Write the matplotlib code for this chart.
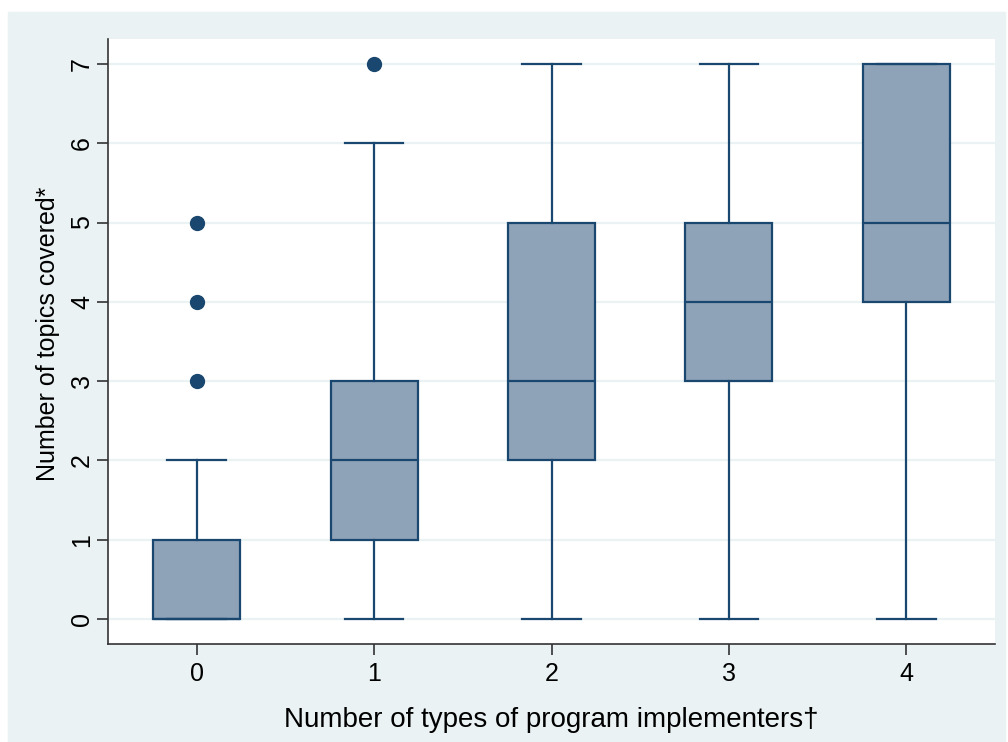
import matplotlib.pyplot as plt
from matplotlib.patches import Rectangle

plt.rcParams['font.family'] = ['Liberation Sans', 'DejaVu Sans']

# box plot summary per group
groups = [0, 1, 2, 3, 4]
whislo = [0, 0, 0, 0, 0]
q1 = [0, 1, 2, 3, 4]
med = [0, 2, 3, 4, 5]
q3 = [1, 3, 5, 5, 7]
whishi = [2, 6, 7, 7, 7]
outliers = [[3, 4, 5], [7], [], [], []]

NAVY = '#1a476f'
FILL = '#8ea3b8'
BG = '#eaf2f3'

stats = []
for i in range(len(groups)):
    stats.append(dict(whislo=whislo[i], q1=q1[i], med=med[i], q3=q3[i],
                      whishi=whishi[i], fliers=outliers[i], label=str(groups[i])))

fig = plt.figure(figsize=(10.08, 7.42), dpi=100)
fig.add_artist(Rectangle((8 / 1008, 0), 997 / 1008, 730 / 742,
                         transform=fig.transFigure, color=BG, zorder=-5))
ax = fig.add_axes([108 / 1008, 98 / 742, 887 / 1008, 605 / 742])

ax.bxp(stats, positions=groups, widths=0.49, patch_artist=True,
       boxprops=dict(facecolor=FILL, edgecolor=NAVY, linewidth=1.6),
       medianprops=dict(color=NAVY, linewidth=1.6),
       whiskerprops=dict(color=NAVY, linewidth=1.6),
       capprops=dict(color=NAVY, linewidth=1.6),
       capwidths=0.33,
       flierprops=dict(marker='o', markerfacecolor=NAVY, markeredgecolor=NAVY,
                       markersize=10), zorder=3)

ax.set_xlim(-0.5, 4.5)
ax.set_ylim(-0.315, 7.315)
ax.set_yticks(range(8))
ax.set_xticks(groups)
ax.set_xticklabels([str(g) for g in groups])
ax.yaxis.grid(True, color=BG, linewidth=1.6, zorder=0)
ax.set_axisbelow(True)

for s in ['top', 'right']:
    ax.spines[s].set_visible(False)
for s in ['left', 'bottom']:
    ax.spines[s].set_color('#333333')
    ax.spines[s].set_linewidth(1.2)

ax.tick_params(axis='both', length=8, width=1.2, color='#333333', labelsize=18)
ax.tick_params(axis='y', labelrotation=90, pad=2)
ax.tick_params(axis='x', pad=5)
for t in ax.get_yticklabels():
    t.set_va('center')

ax.set_xlabel('Number of types of program implementers†', fontsize=20, labelpad=15)
ax.set_ylabel('Number of topics covered*', fontsize=18, labelpad=7)
ax.yaxis.label.set_y(0.512)

fig.savefig('out.png', dpi=100)
